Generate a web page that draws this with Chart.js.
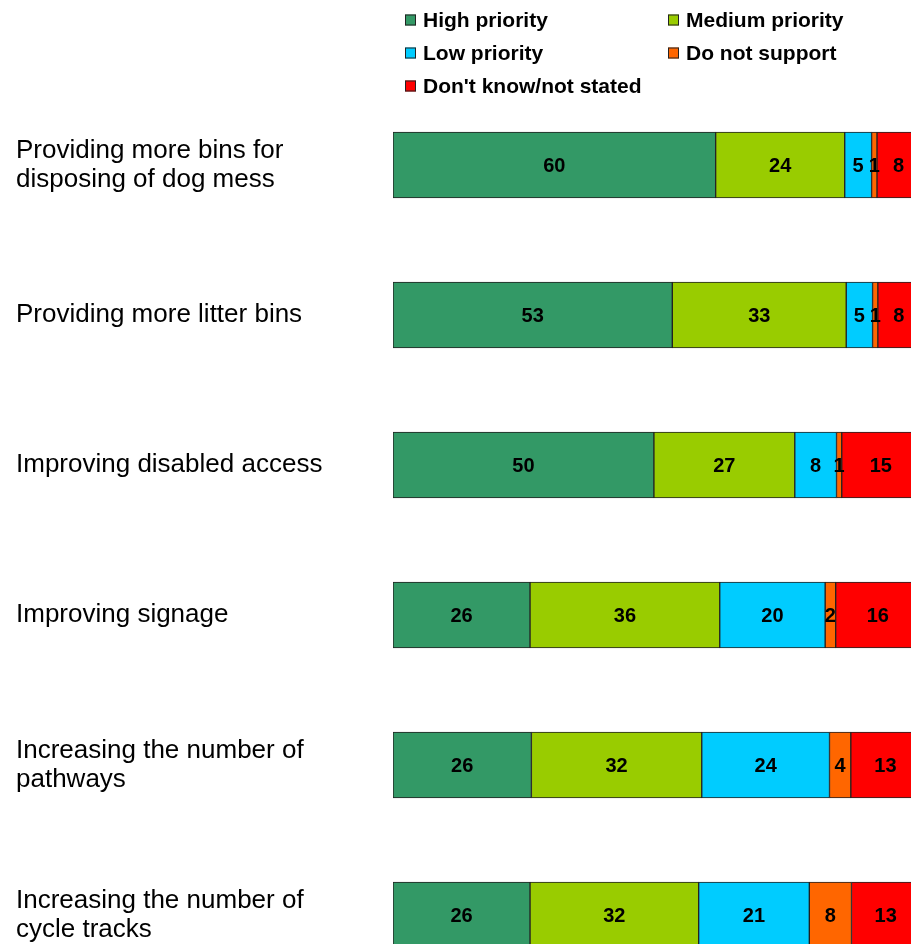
<!DOCTYPE html>
<html>
<head>
<meta charset="utf-8">
<script src="https://cdn.jsdelivr.net/npm/chart.js@4/dist/chart.umd.min.js"></script>
<style>
  html, body { margin: 0; padding: 0; overflow: hidden; background: #fff; }
  canvas { display: block; }
</style>
</head>
<body>
<canvas id="barChart" width="920" height="1000"></canvas>
<script>
// Categories (y-axis), each label split in lines
const categories = [
    ['Providing more bins for', 'disposing of dog mess'],
    ['Providing more litter bins'],
    ['Improving disabled access'],
    ['Improving signage'],
    ['Increasing the number of', 'pathways'],
    ['Increasing the number of', 'cycle tracks']
];

// Series values (% of respondents)
const highPriority   = [60, 53, 50, 26, 26, 26];
const mediumPriority = [24, 33, 27, 36, 32, 32];
const lowPriority    = [5, 5, 8, 20, 24, 21];
const doNotSupport   = [1, 1, 1, 2, 4, 8];
const dontKnow       = [8, 8, 15, 16, 13, 13];

const seriesNames  = ['High priority', 'Medium priority', 'Low priority', 'Do not support', "Don't know/not stated"];
const seriesValues = [highPriority, mediumPriority, lowPriority, doNotSupport, dontKnow];
const seriesColors = ['#339966', '#99cc00', '#00ccff', '#ff6600', '#ff0000'];

// 100% stacked: each bar is scaled to its own total
const totals = categories.map((c, i) => seriesValues.reduce((s, arr) => s + arr[i], 0));

const datasets = seriesNames.map((name, k) => ({
    label: name,
    data: seriesValues[k].map((v, i) => v / totals[i] * 100),
    raw: seriesValues[k],
    backgroundColor: seriesColors[k],
    borderColor: '#222',
    borderWidth: 1,
    borderSkipped: false,
    barThickness: 66
}));

// Value labels centred in each segment
const valueLabels = {
    id: 'valueLabels',
    afterDatasetsDraw(chart) {
        const ctx = chart.ctx;
        ctx.save();
        ctx.font = 'bold 20px "Liberation Sans", Arial, sans-serif';
        ctx.fillStyle = '#000';
        ctx.textAlign = 'center';
        ctx.textBaseline = 'middle';
        chart.data.datasets.forEach((ds, k) => {
            chart.getDatasetMeta(k).data.forEach((bar, i) => {
                const cx = (bar.x + bar.base) / 2;
                ctx.fillText(String(ds.raw[i]), cx, bar.y + 1);
            });
        });
        ctx.restore();
    }
};

// Two-column legend above the plot
const gridLegend = {
    id: 'gridLegend',
    afterDraw(chart) {
        const ctx = chart.ctx;
        const cols = [405, 668];     // box left edge for each column
        const rows = [20, 53, 86];   // row centres
        ctx.save();
        ctx.font = 'bold 21px "Liberation Sans", Arial, sans-serif';
        ctx.textBaseline = 'middle';
        ctx.textAlign = 'left';
        seriesNames.forEach((name, k) => {
            const x = cols[k % 2];
            const y = rows[Math.floor(k / 2)];
            ctx.fillStyle = seriesColors[k];
            ctx.fillRect(x, y - 5.5, 11, 11);
            ctx.strokeStyle = '#222';
            ctx.lineWidth = 1;
            ctx.strokeRect(x + 0.5, y - 5, 10, 10);
            ctx.fillStyle = '#000';
            ctx.fillText(name, x + 18, y + 1);
        });
        ctx.restore();
    }
};

const barChart = new Chart(document.getElementById('barChart'), {
    type: 'bar',
    data: {
        labels: categories,
        datasets: datasets
    },
    options: {
        indexAxis: 'y',
        responsive: false,
        animation: false,
        layout: {
            padding: { top: 90, bottom: 10, left: 16, right: 0 }
        },
        scales: {
            x: {
                stacked: true,
                min: 0,
                max: 100,
                display: false
            },
            y: {
                stacked: true,
                grid: { display: false },
                border: { display: false },
                afterFit(scale) {
                    scale.width = 377;        // plot starts at x = 393
                    scale.paddingTop = 0;
                    scale.paddingBottom = 0;
                },
                ticks: {
                    crossAlign: 'far',
                    color: '#000',
                    font: { family: '"Liberation Sans", Arial, sans-serif', size: 26, lineHeight: 1.12 }
                }
            }
        },
        plugins: {
            legend: { display: false },
            tooltip: { enabled: false }
        }
    },
    plugins: [valueLabels, gridLegend]
});
</script>
</body>
</html>
